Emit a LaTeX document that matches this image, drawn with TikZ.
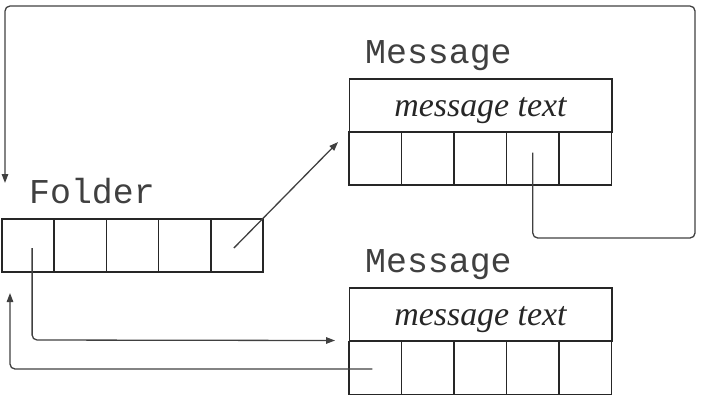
\documentclass[tikz,border=0pt]{standalone}
\usepackage{fontspec}
\setmainfont{Liberation Serif}
\newfontfamily\monof{Liberation Mono}
\usetikzlibrary{arrows.meta,calc}
\begin{document}
\begin{tikzpicture}[x=1bp,y=-1bp,
  cell/.style={draw=black!85,line width=1.5bp,minimum width=52.4bp,minimum height=53bp,inner sep=0pt,outer sep=0pt},
  header/.style={draw=black!85,line width=1.5bp,minimum width=262.5bp,minimum height=53bp,inner sep=0pt,outer sep=0pt,font=\fontsize{34}{34}\selectfont\itshape,text=black!85},
  label/.style={anchor=base west,inner sep=0pt,font=\monof\fontsize{35}{35}\selectfont,text=black!75},
  conn/.style={draw=black!75,line width=1.3bp,rounded corners=5bp},
  tip/.style={-{Triangle[length=9bp,width=6.5bp]}}
]
\useasboundingbox (0,0) rectangle (704,400);
% Folder
\foreach \i in {1,...,5}{
  \node[cell] (f\i) at ({2+52.2*(\i-0.5)},245.5) {};
}
\node[label] (flab) at (29,203) {Folder};
% Top message
\node[header,text depth=0pt] (mt) at (480.5,105.5) {\raisebox{-3bp}{message text}};
\foreach \i in {1,...,5}{
  \node[cell] (m\i) at ({349+52.5*(\i-0.5)},158.5) {};
}
\node[label] (mlab) at (365,63) {Message};
% Bottom message
\node[header,text depth=0pt] (nt) at (480.5,314.5) {\raisebox{-3bp}{message text}};
\foreach \i in {1,...,5}{
  \node[cell] (n\i) at ({349+52.5*(\i-0.5)},368) {};
}
\node[label] (nlab) at (365,272) {Message};
% connector points
\coordinate (s5) at ($(f5.center)+(-3,2.5)$);
\coordinate (e5) at ($(m1.north west)+(-11,10)$);
\coordinate (s4) at ($(m4.center)+(0,-6)$);
\coordinate (e4) at (5,183);
\coordinate (s1) at ($(f1.center)+(4,2.5)$);
\coordinate (e1) at ($(n1.north west)+(-14,-1)$);
\coordinate (s6) at ($(n1.center)+(-3,1)$);
\coordinate (e6) at (10,293);
% connectors
\draw[conn,tip] (s5) -- (e5);
\draw[conn,tip] (s4) -- (s4 |- 0,238) -- (695,238) -- (695,6) -- (5,6) -- (e4);
\draw[conn,tip] (s1) -- (s1 |- 0,340) -- (e1);
\draw[conn,tip] (s6) -- (10,369) -- (e6);
\end{tikzpicture}
\end{document}
